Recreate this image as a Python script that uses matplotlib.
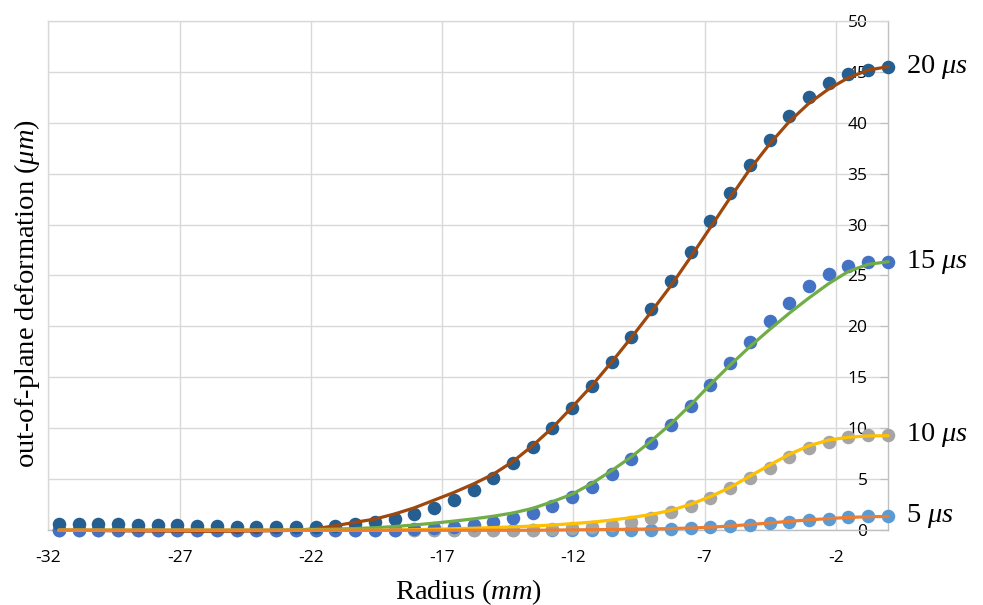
import matplotlib
matplotlib.use("Agg")
import matplotlib.pyplot as plt

plt.rcParams['mathtext.fontset'] = 'custom'
plt.rcParams['mathtext.rm'] = 'Liberation Serif'
plt.rcParams['mathtext.it'] = 'Liberation Serif:italic'

radius = [-31.6, -30.85, -30.09, -29.34, -28.59, -27.84, -27.09, -26.33, -25.58, -24.83,
          -24.08, -23.33, -22.57, -21.82, -21.07, -20.32, -19.56, -18.81, -18.06, -17.31,
          -16.56, -15.8, -15.05, -14.3, -13.55, -12.8, -12.04, -11.29, -10.54, -9.79,
          -9.04, -8.28, -7.53, -6.78, -6.03, -5.28, -4.52, -3.77, -3.02, -2.27,
          -1.52, -0.76, 0.0]

meas_20 = [0.62, 0.62, 0.60, 0.58, 0.55, 0.52, 0.47, 0.42, 0.38, 0.33,
           0.32, 0.30, 0.30, 0.30, 0.42, 0.62, 0.84, 1.11, 1.57, 2.16,
           2.97, 3.95, 5.16, 6.57, 8.2, 10.0, 11.97, 14.16, 16.49, 19.0,
           21.69, 24.46, 27.28, 30.3, 33.1, 35.85, 38.34, 40.63, 42.47, 43.91,
           44.79, 45.21, 45.48]
fit_20 = [0.02, 0.0, -0.03, -0.05, -0.07, -0.08, -0.09, -0.1, -0.1, -0.09,
          -0.07, -0.04, 0.0, 0.15, 0.45, 0.78, 1.1, 1.6, 2.2, 2.95,
          3.7, 4.55, 5.5, 6.75, 8.3, 10.05, 12.1, 14.2, 16.5, 18.9,
          21.4, 24.0, 26.8, 29.7, 32.6, 35.4, 37.9, 40.1, 41.9, 43.3,
          44.4, 45.15, 45.5]

meas_15 = [0.0, 0.0, 0.0, 0.0, 0.0, 0.0, 0.0, 0.0, 0.0, 0.0,
           0.0, 0.0, 0.0, 0.0, 0.02, 0.03, 0.05, 0.05, 0.1, 0.2,
           0.36, 0.52, 0.85, 1.18, 1.7, 2.39, 3.3, 4.28, 5.53, 6.97,
           8.55, 10.34, 12.2, 14.3, 16.4, 18.47, 20.49, 22.3, 23.93, 25.14,
           25.9, 26.29, 26.33]
fit_15 = [0.02, 0.02, 0.02, 0.02, 0.02, 0.02, 0.02, 0.02, 0.02, 0.02,
          0.02, 0.02, 0.05, 0.08, 0.12, 0.17, 0.25, 0.37, 0.52, 0.7,
          0.9, 1.12, 1.38, 1.7, 2.15, 2.8, 3.55, 4.6, 5.85, 7.2,
          8.75, 10.45, 12.3, 14.3, 16.2, 18.0, 19.7, 21.3, 22.8, 24.2,
          25.4, 26.1, 26.35]

meas_10 = [0.0, 0.0, 0.0, 0.0, 0.0, 0.0, 0.0, 0.0, 0.0, 0.0,
           0.0, 0.0, 0.0, 0.0, 0.0, 0.0, 0.0, 0.0, 0.0, 0.0,
           0.0, 0.0, 0.0, 0.02, 0.03, 0.1, 0.2, 0.3, 0.52, 0.85,
           1.2, 1.77, 2.35, 3.2, 4.12, 5.1, 6.09, 7.17, 8.05, 8.7,
           9.13, 9.36, 9.36]
fit_10 = [0.0, 0.0, 0.0, 0.0, 0.0, 0.0, 0.0, 0.0, 0.0, 0.0,
          0.0, 0.0, 0.0, 0.0, 0.0, 0.0, 0.0, 0.03, 0.06, 0.1,
          0.15, 0.2, 0.27, 0.33, 0.42, 0.52, 0.65, 0.8, 1.0, 1.25,
          1.55, 1.95, 2.55, 3.3, 4.2, 5.3, 6.4, 7.45, 8.3, 8.85,
          9.13, 9.26, 9.28]

meas_5 = [0.0, 0.0, 0.0, 0.0, 0.0, 0.0, 0.0, 0.0, 0.0, 0.0,
          0.0, 0.0, 0.0, 0.0, 0.0, 0.0, 0.0, 0.0, 0.0, 0.0,
          0.0, 0.0, 0.0, 0.0, 0.0, 0.0, 0.0, 0.0, 0.0, 0.0,
          0.05, 0.1, 0.2, 0.3, 0.42, 0.52, 0.69, 0.85, 1.0, 1.15,
          1.3, 1.38, 1.4]
fit_5 = [0.0, 0.0, 0.0, 0.0, 0.0, 0.0, 0.0, 0.0, 0.0, 0.0,
         0.0, 0.0, 0.0, 0.0, 0.0, 0.0, 0.0, 0.0, 0.0, 0.0,
         0.0, 0.0, 0.0, 0.0, 0.0, 0.02, 0.04, 0.06, 0.08, 0.1,
         0.13, 0.17, 0.22, 0.3, 0.42, 0.56, 0.72, 0.88, 1.02, 1.15,
         1.26, 1.33, 1.36]

series_labels = ['5 $μs$', '10 $μs$', '15 $μs$', '20 $μs$']
x_ticks = [-32, -27, -22, -17, -12, -7, -2]
x_tick_labels = ['-32', '-27', '-22', '-17', '-12', '-7', '-2']
y_ticks = [0, 5, 10, 15, 20, 25, 30, 35, 40, 45, 50]

dot_colors = ['#5B9BD5', '#A5A5A5', '#4472C4', '#255E91']
line_colors = ['#ED7D31', '#FFC000', '#70AD47', '#9E480E']

fig = plt.figure(figsize=(9.83, 6.05), dpi=100)
ax = fig.add_axes([0.0492, 0.1235, 0.8544, 0.8423])

grid_c = '#D9D9D9'
for s in ['left', 'top']:
    ax.spines[s].set_color(grid_c)
    ax.spines[s].set_linewidth(1.0)
for s in ['right', 'bottom']:
    ax.spines[s].set_color('#BFBFBF')
    ax.spines[s].set_linewidth(1.0)

ax.set_xlim(-32, 0)
ax.set_ylim(0, 50)
ax.grid(True, color=grid_c, linewidth=1.0)
ax.set_axisbelow(True)

measured = [meas_5, meas_10, meas_15, meas_20]
fits = [fit_5, fit_10, fit_15, fit_20]

for vals, c in zip(measured, dot_colors):
    ax.scatter(radius, vals, s=95, color=c, zorder=3, clip_on=False, linewidths=0)
for vals, c in zip([fit_20, fit_15, fit_10, fit_5], line_colors[::-1]):
    ax.plot(radius, vals, color=c, linewidth=2.3, zorder=4, clip_on=False,
            solid_capstyle='round')

for lab, vals in zip(series_labels, measured):
    ax.annotate(lab, xy=(radius[-1], vals[-1]), xytext=(13, 0),
                textcoords='offset points', ha='left', va='center',
                fontsize=20.5, family='Liberation Serif', annotation_clip=False)

tick_font = 'Open Sans'
ax.set_xticks(x_ticks)
ax.set_xticklabels(x_tick_labels, family=tick_font, fontsize=12.5)
ax.tick_params(axis='x', length=0, pad=14)

ax.yaxis.tick_right()
ax.set_yticks(y_ticks)
ax.set_yticklabels([str(v) for v in y_ticks], family=tick_font, fontsize=12.5)
ax.tick_params(axis='y', direction='in', length=6, color='#BFBFBF', pad=-15)
for lab in ax.get_yticklabels():
    lab.set_horizontalalignment('right')

fig.text(0.4765, 0.0215, 'Radius ($mm$)', ha='center', va='center',
         fontsize=20.5, family='Liberation Serif')
fig.text(0.027, 0.515, 'out-of-plane deformation ($μm$)', ha='center', va='center',
         rotation=90, fontsize=20.5, family='Liberation Serif')

fig.savefig('out.png', dpi=100)
